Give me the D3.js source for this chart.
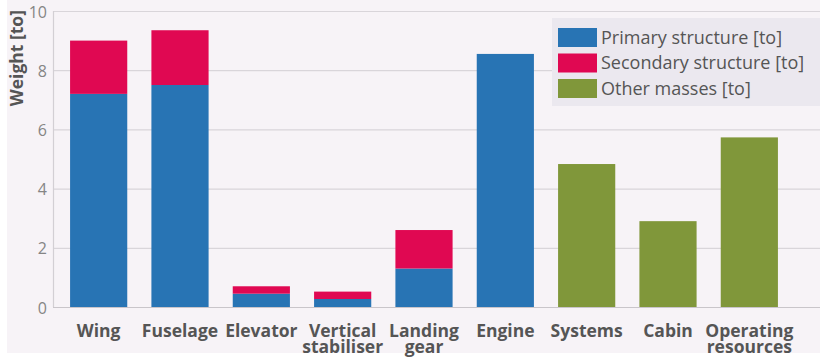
<!DOCTYPE html>
<html>
<head>
<meta charset="utf-8">
<script src="https://cdn.jsdelivr.net/npm/d3@7/dist/d3.min.js"></script>
<style>
  html, body { margin: 0; padding: 0; background: #ffffff; }
  svg { display: block; }
</style>
</head>
<body>
<svg id="chart" width="820" height="358"></svg>
<script>
// Aircraft mass breakdown, in tonnes
const categories = [
  ["Wing"], ["Fuselage"], ["Elevator"], ["Vertical", "stabiliser"],
  ["Landing", "gear"], ["Engine"], ["Systems"], ["Cabin"], ["Operating", "resources"]
];
const primary   = [7.2, 7.5, 0.45, 0.27, 1.3, 8.55, 0, 0, 0];
const secondary = [1.8, 1.85, 0.25, 0.25, 1.3, 0, 0, 0, 0];
const other     = [0, 0, 0, 0, 0, 0, 4.83, 2.9, 5.73];
const seriesNames = ["Primary structure [to]", "Secondary structure [to]", "Other masses [to]"];
const seriesKeys = ["primary", "secondary", "other"];
const yTicks = [0, 2, 4, 6, 8, 10];

const colors = { primary: "#2874b4", secondary: "#e00852", other: "#80973a" };

const rows = categories.map((c, i) => ({
  key: c.join(" "), lines: c,
  primary: primary[i], secondary: secondary[i], other: other[i]
}));

const svg = d3.select("#chart");
const W = 820, H = 358;
const plot = { left: 53, right: 820, top: 11, bottom: 307 };

// panel background
svg.append("rect").attr("x", 7).attr("y", 0).attr("width", W - 7).attr("height", 353)
  .attr("fill", "#f7f3f7");

const x = d3.scaleBand()
  .domain(rows.map(d => d.key))
  .range([58, 790])
  .paddingInner(0.297)
  .paddingOuter(0.1485);

const y = d3.scaleLinear().domain([0, 10]).range([plot.bottom, plot.top]);

// horizontal grid
svg.append("g").selectAll("line").data(yTicks).join("line")
  .attr("x1", plot.left).attr("x2", plot.right)
  .attr("y1", d => y(d) + 0.5).attr("y2", d => y(d) + 0.5)
  .attr("stroke", d => d === 0 ? "#c9c5ca" : "#d9d5da")
  .attr("stroke-width", 1.2);

// left axis line
svg.append("line")
  .attr("x1", plot.left + 0.5).attr("x2", plot.left + 0.5)
  .attr("y1", plot.top).attr("y2", plot.bottom)
  .attr("stroke", "#d3cfd4").attr("stroke-width", 1.2);

// y tick labels
svg.append("g").selectAll("text").data(yTicks).join("text")
  .attr("x", 47).attr("y", d => y(d) + 6.5)
  .attr("text-anchor", "end")
  .attr("font-family", "'Open Sans', sans-serif")
  .attr("font-size", 16)
  .attr("fill", "#858585")
  .text(d => d);

// y axis title
svg.append("text")
  .attr("transform", "translate(23,10) rotate(-90)")
  .attr("text-anchor", "end")
  .attr("font-family", "'Open Sans', sans-serif")
  .attr("font-weight", "bold")
  .attr("font-size", 17.5)
  .attr("fill", "#555555")
  .text("Weight [to]");

// stacked bars
const stack = d3.stack().keys(seriesKeys)(rows);
svg.append("g").selectAll("g").data(stack).join("g")
  .attr("fill", s => colors[s.key])
  .selectAll("rect").data(s => s.filter(d => d[1] - d[0] > 0)).join("rect")
  .attr("x", d => x(d.data.key))
  .attr("width", x.bandwidth())
  .attr("y", d => y(d[1]))
  .attr("height", d => y(d[0]) - y(d[1]));

// category labels
const xl = svg.append("g").selectAll("text").data(rows).join("text")
  .attr("x", d => x(d.key) + x.bandwidth() / 2)
  .attr("y", 337)
  .attr("text-anchor", "middle")
  .attr("font-family", "'Open Sans', sans-serif")
  .attr("font-weight", "bold")
  .attr("font-size", 17.5)
  .attr("fill", "#555555");
xl.selectAll("tspan").data(d => d.lines).join("tspan")
  .attr("x", function () { return d3.select(this.parentNode).attr("x"); })
  .attr("dy", (d, i) => i === 0 ? 0 : 16)
  .text(d => d);

// legend
const lg = svg.append("g");
lg.append("rect").attr("x", 552).attr("y", 18).attr("width", W - 552).attr("height", 88)
  .attr("fill", "#ebe8ef");
const items = lg.selectAll("g").data(seriesKeys).join("g")
  .attr("transform", (d, i) => `translate(558,${28 + i * 25.5})`);
items.append("rect").attr("width", 39).attr("height", 19)
  .attr("fill", d => colors[d]);
items.append("text")
  .attr("x", 43).attr("y", 9.5).attr("dy", "0.36em")
  .attr("font-family", "'Open Sans', sans-serif")
  .attr("font-size", 18)
  .attr("fill", "#555555")
  .text((d, i) => seriesNames[i]);
</script>
</body>
</html>
